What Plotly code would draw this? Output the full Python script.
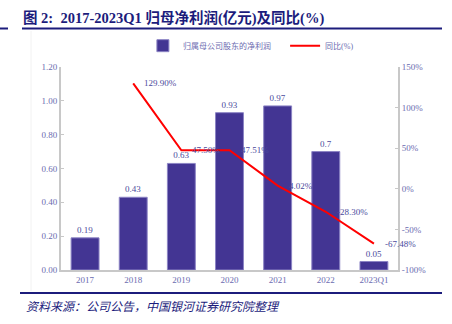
import plotly.graph_objects as go

categories = ["2017", "2018", "2019", "2020", "2021", "2022", "2023Q1"]
profit = [0.19, 0.43, 0.63, 0.93, 0.97, 0.70, 0.05]
profit_labels = ["0.19", "0.43", "0.63", "0.93", "0.97", "0.7", "0.05"]
yoy_cats = ["2018", "2019", "2020", "2021", "2022", "2023Q1"]
yoy = [129.90, 47.50, 47.51, 4.02, -28.30, -67.48]
yoy_labels = ["129.90%", "47.50%", "47.51%", "4.02%", "-28.30%", "-67.48%"]
left_ticks = [0, 0.2, 0.4, 0.6, 0.8, 1.0, 1.2]
left_tick_text = ["0.00", "0.20", "0.40", "0.60", "0.80", "1.00", "1.20"]
right_ticks = [-100, -50, 0, 50, 100, 150]
right_tick_text = ["-100%", "-50%", "0%", "50%", "100%", "150%"]

NAVY = "#1c1c7c"
BAR = "#433593"
TICK = "#6b6bb0"
LBL = "#4a4a9c"
FONT = "Liberation Serif, Noto Sans CJK SC, serif"

fig = go.Figure()
fig.add_trace(go.Bar(
    x=categories, y=profit, name="归属母公司股东的净利润",
    marker=dict(color=BAR, line=dict(color="#8c84c4", width=1)),
    width=0.58, text=profit_labels, textposition="outside",
    textfont=dict(color=LBL, size=9, family=FONT), cliponaxis=False,
    legend="legend",
))
fig.add_trace(go.Scatter(
    x=yoy_cats, y=yoy, name="同比(%)", mode="lines",
    line=dict(color="#ff0000", width=2), yaxis="y2", legend="legend2",
))
for c, v, t in zip(yoy_cats, yoy, yoy_labels):
    fig.add_annotation(x=categories.index(c), y=v, xref="x", yref="y2", text=t,
                       showarrow=False, xanchor="left", yanchor="middle", xshift=9,
                       font=dict(color=LBL, size=9, family=FONT))

leg_common = dict(orientation="h", y=1.105, xanchor="left", yanchor="middle",
                  font=dict(color=TICK, size=8, family=FONT), bgcolor="rgba(0,0,0,0)",
                  itemwidth=30)

fig.update_layout(
    width=452, height=324,
    margin=dict(l=61, r=54, t=67, b=54),
    paper_bgcolor="white", plot_bgcolor="white",
    bargap=0.4,
    showlegend=True,
    legend=dict(x=0.243, **leg_common),
    legend2=dict(x=0.665, **leg_common),
    xaxis=dict(type="category", range=[-0.5, 6.5], showline=True, linecolor="#c8c8c8",
               linewidth=2, ticks="", showgrid=False,
               tickfont=dict(color=TICK, size=9, family=FONT)),
    yaxis=dict(range=[0, 1.2], tickvals=left_ticks, ticktext=left_tick_text,
               showline=True, linecolor="#c8c8c8", linewidth=2, ticks="inside",
               ticklen=3, tickcolor="#c8c8c8", showgrid=False, zeroline=False,
               tickfont=dict(color=TICK, size=9, family=FONT)),
    yaxis2=dict(range=[-100, 150], tickvals=right_ticks, ticktext=right_tick_text,
                overlaying="y", side="right", showline=True, linecolor="#c8c8c8",
                linewidth=2, ticks="inside", ticklen=3, tickcolor="#c8c8c8",
                showgrid=False, zeroline=False,
                tickfont=dict(color=TICK, size=9, family=FONT)),
)

fig.add_annotation(text="<b>图 2:  2017-2023Q1 归母净利润(亿元)及同比(%)</b>",
                   xref="paper", yref="paper", x=-0.12, y=1.0 + (67 - 18) / 203,
                   xanchor="left", yanchor="middle", showarrow=False,
                   font=dict(color=NAVY, size=14.5, family=FONT))
fig.add_annotation(text="<i>资料来源：公司公告，中国银河证券研究院整理</i>",
                   xref="paper", yref="paper", x=-0.11, y=-(307 - 270) / 203,
                   xanchor="left", yanchor="middle", showarrow=False,
                   font=dict(color=NAVY, size=12, family=FONT))

def px_x(px):
    return (px - 61) / 337

def px_y(py):
    return (270 - py) / 203

fig.add_shape(type="line", xref="paper", yref="paper", x0=px_x(22), x1=px_x(442),
              y0=px_y(28.5), y1=px_y(28.5), line=dict(color=NAVY, width=2))
fig.add_shape(type="line", xref="paper", yref="paper", x0=px_x(0), x1=px_x(8),
              y0=px_y(28.5), y1=px_y(28.5), line=dict(color=NAVY, width=2))
fig.add_shape(type="line", xref="paper", yref="paper", x0=px_x(20), x1=px_x(442),
              y0=px_y(293), y1=px_y(293), line=dict(color=NAVY, width=2))
fig.add_shape(type="line", xref="paper", yref="paper", x0=px_x(31), x1=px_x(31),
              y0=px_y(31), y1=px_y(291), line=dict(color="#f2f2f2", width=1))

fig.write_html("out.html")
